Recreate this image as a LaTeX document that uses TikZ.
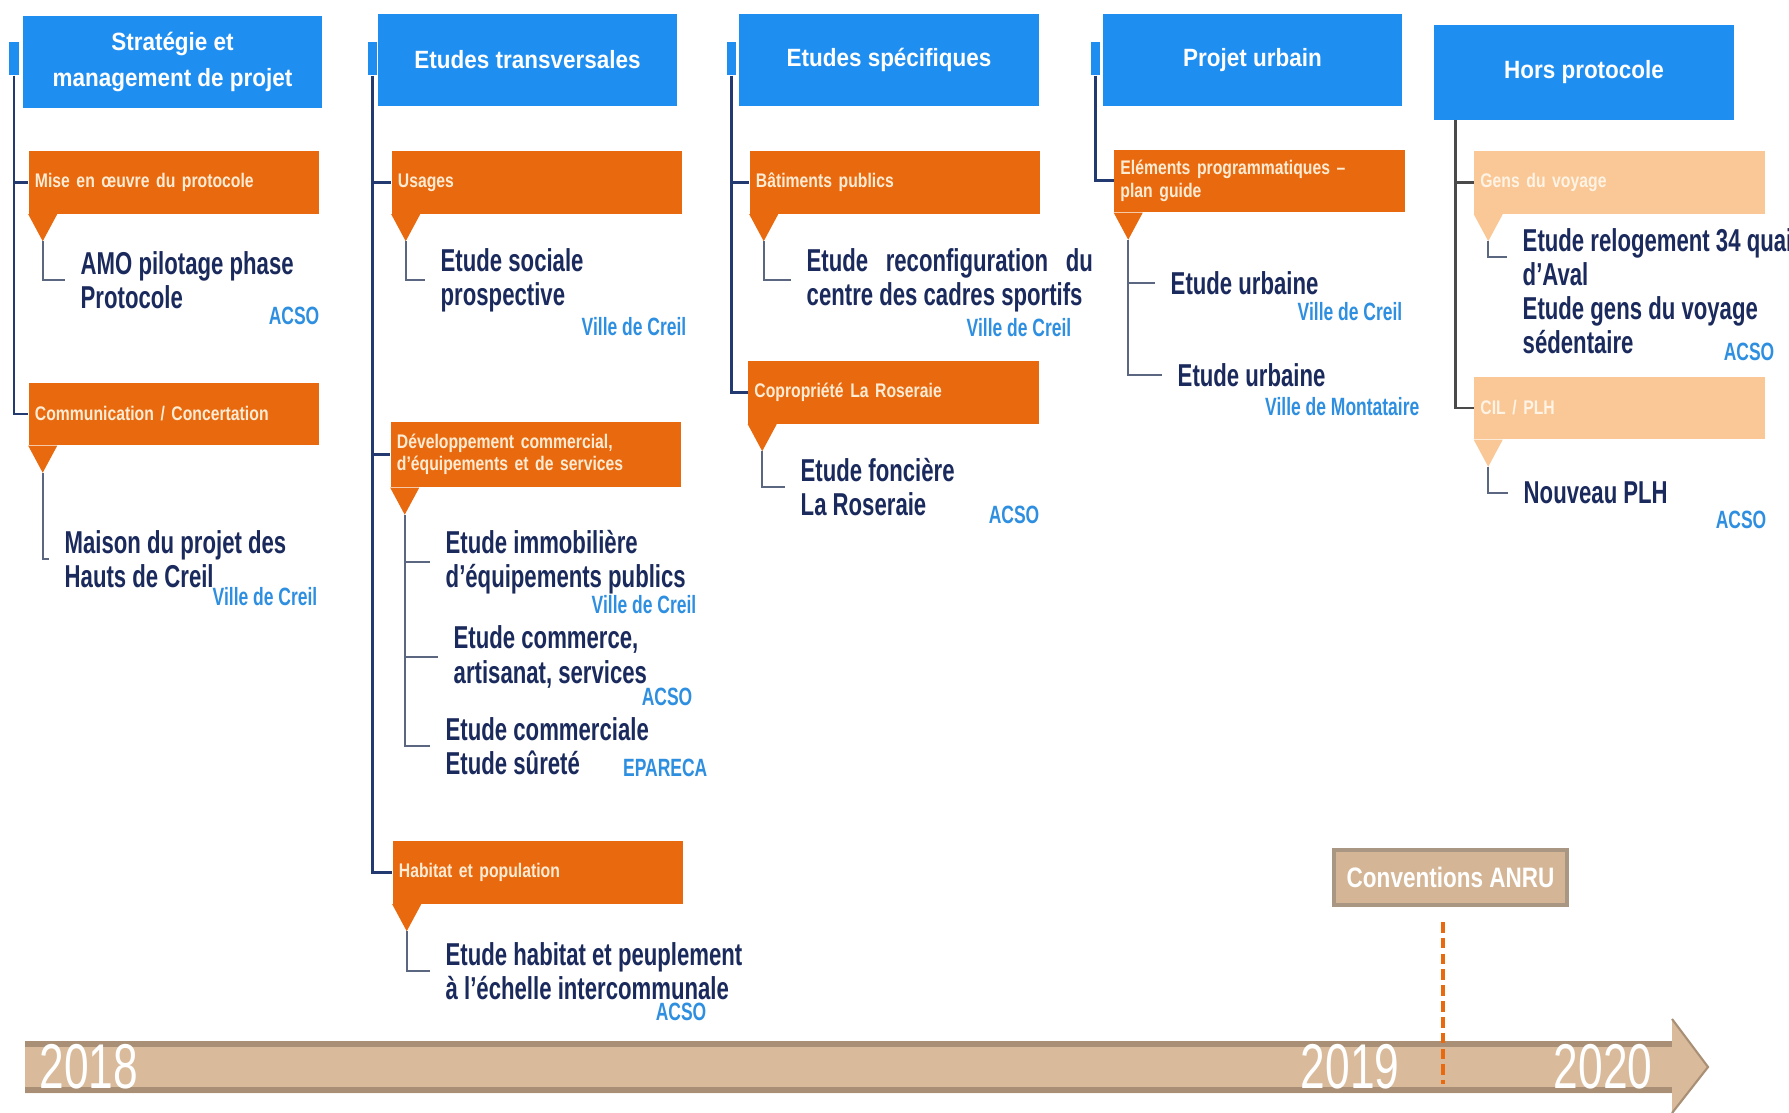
\documentclass[tikz,border=0pt]{standalone}
\usepackage{fontspec}
\setmainfont{Liberation Sans}
\newfontfamily\hdfont[FakeStretch=0.9]{Liberation Sans}
\newfontfamily\catfont[FakeStretch=0.8]{Liberation Sans}
\newfontfamily\itfont[FakeStretch=0.7]{Liberation Sans}
\definecolor{hdblue}{HTML}{1F8EF1}
\definecolor{orng}{HTML}{E8690E}
\definecolor{peach}{HTML}{FAC896}
\definecolor{cream}{HTML}{FDEBD3}
\definecolor{navy}{HTML}{1B2A5C}
\definecolor{orgblue}{HTML}{2E8FE0}
\definecolor{navyline}{HTML}{223A70}
\definecolor{twiggrey}{HTML}{5B6680}
\definecolor{greyline}{HTML}{4A4A4A}
\definecolor{tanfill}{HTML}{D9BB9B}
\definecolor{tandark}{HTML}{A88F75}
\definecolor{anrufill}{HTML}{D4B596}
\definecolor{anrudraw}{HTML}{A99683}

\begin{document}
\begin{tikzpicture}[x=0.01cm,y=-0.01cm,
  hdbox/.style={fill=hdblue, text=white, minimum width=2.99cm, minimum height=0.92cm,
    inner sep=0, align=center, font=\hdfont\bfseries\fontsize{7.1}{10}\selectfont},
  tabbox/.style={fill=hdblue, minimum width=0.09cm, minimum height=0.33cm, inner sep=0},
  catbox/.style={fill=orng, text=cream, text width=2.78cm, minimum height=0.62cm,
    inner xsep=0.06cm, inner ysep=0, align=left,
    font=\catfont\bfseries\fontsize{5.6}{6.4}\selectfont},
  catlight/.style={catbox, fill=peach, text=cream!60!white},
  itemtxt/.style={text=navy, anchor=west, inner sep=0, align=left,
    font=\itfont\bfseries\fontsize{9}{9.7}\selectfont},
  orgtxt/.style={text=orgblue, anchor=east, inner sep=0,
    font=\itfont\bfseries\fontsize{7.1}{8}\selectfont},
  trunk/.style={draw=navyline, line width=0.85pt},
  twig/.style={draw=twiggrey, line width=0.5pt, shorten >=0.15cm}]
\useasboundingbox[fill=white] (0,0) rectangle (1789,1113);

% en-tetes
\node[hdbox] (h1) at (172.5,62) {Stratégie et\\management de projet};
\node[hdbox] (h2) at (527.5,60) {Etudes transversales};
\node[hdbox] (h3) at (889,60) {Etudes spécifiques};
\node[hdbox] (h4) at (1252.5,60) {Projet urbain};
\node[hdbox, minimum height=0.95cm] (h5) at (1584,72.5) {Hors protocole};
\node[tabbox] (t1) at (14,58.5) {};
\node[tabbox] (t2) at (372,58.5) {};
\node[tabbox] (t3) at (731.5,58.5) {};
\node[tabbox] (t4) at (1095,58.5) {};
\coordinate (r5) at (1455,120);

% rubriques
\node[catbox] (c11) at (174,182.5) {Mise en œuvre du protocole};
\node[catbox] (c12) at (174,414) {Communication / Concertation};
\node[catbox] (c21) at (537,182.5) {Usages};
\node[catbox, minimum height=0.65cm] (c22) at (536,454.5) {Développement commercial,\\d’équipements et de services};
\node[catbox] (c23) at (538,872.5) {Habitat et population};
\node[catbox] (c31) at (895,182.5) {Bâtiments publics};
\node[catbox] (c32) at (893.5,392.5) {Copropriété La Roseraie};
\node[catbox] (c41) at (1259.5,181) {Eléments programmatiques –\\plan guide};
\node[catlight] (c51) at (1619.5,182.5) {Gens du voyage};
\node[catlight] (c52) at (1619.5,408) {CIL / PLH};

\foreach \c in {c11,c12,c21,c22,c23,c31,c32,c41}
  \fill[orng] (\c.south west) -- ++(29,0) -- ++(-14.5,27) coordinate (\c v) -- cycle;
\foreach \c in {c51,c52}
  \fill[peach] (\c.south west) -- ++(29,0) -- ++(-14.5,27) coordinate (\c v) -- cycle;

% axes verticaux
\draw[trunk] (t1.south) |- (c12.west);
\draw[trunk] (t1.south |- c11.west) -- (c11.west);
\draw[trunk] (t2.south) |- (c23.west);
\draw[trunk] (t2.south |- c21.west) -- (c21.west);
\draw[trunk] (t2.south |- c22.west) -- (c22.west);
\draw[trunk] (t3.south) |- (c32.west);
\draw[trunk] (t3.south |- c31.west) -- (c31.west);
\draw[trunk] (t4.south) |- (c41.west);
\draw[trunk, draw=greyline] (r5) |- (c52.west);
\draw[trunk, draw=greyline] (r5 |- c51.west) -- (c51.west);

% etudes
\node[itemtxt] (i11) at (80,280) {AMO pilotage phase\\Protocole};
\node[itemtxt] (i12) at (64,559) {Maison du projet des\\Hauts de Creil};
\node[itemtxt] (i21) at (440,280) {Etude sociale\\prospective};
\node[itemtxt] (i22a) at (445,562) {Etude immobilière\\d’équipements publics};
\node[itemtxt] (i22b) at (453,657) {Etude commerce,\\artisanat, services};
\node[itemtxt] (i22c) at (445,746) {Etude commerciale\\Etude sûreté};
\node[itemtxt] (i23) at (445,971) {Etude habitat et peuplement\\à l’échelle intercommunale};
\node[itemtxt] (i31) at (806,280) {\makebox[2.86cm][s]{Etude reconfiguration du}\\centre des cadres sportifs};
\node[itemtxt] (i32) at (800,487) {Etude foncière\\La Roseraie};
\node[itemtxt] (i41a) at (1170,283) {Etude urbaine};
\node[itemtxt] (i41b) at (1177,375) {Etude urbaine};
\node[itemtxt] (i51a) at (1522,257) {Etude relogement 34 quai\\d’Aval};
\node[itemtxt] (i51b) at (1522,325) {Etude gens du voyage\\sédentaire};
\node[itemtxt] (i52) at (1523,493) {Nouveau PLH};

\draw[twig] (c11v) |- (i11.west);
\draw[twig] (c12v) |- (i12.west);
\draw[twig] (c21v) |- (i21.west);
\draw[twig] (c22v) |- (i22c.west);
\draw[twig] (c22v |- i22a.west) -- (i22a.west);
\draw[twig] (c22v |- i22b.west) -- (i22b.west);
\draw[twig] (c23v) |- (i23.west);
\draw[twig] (c31v) |- (i31.west);
\draw[twig] (c32v) |- (i32.west);
\draw[twig] (c41v) |- (i41b.west);
\draw[twig] (c41v |- i41a.west) -- (i41a.west);
\draw[twig] (c51v) |- (i51a.west);
\draw[twig] (c52v) |- (i52.west);

% porteurs
\node[orgtxt] (o11) at (320,316) {ACSO};
\node[orgtxt] (o12) at (318,597) {Ville de Creil};
\node[orgtxt] (o21) at (687,327) {Ville de Creil};
\node[orgtxt] (o22a) at (697,605) {Ville de Creil};
\node[orgtxt] (o22b) at (693,697) {ACSO};
\node[orgtxt] (o22c) at (708,768) {EPARECA};
\node[orgtxt] (o23) at (707,1012) {ACSO};
\node[orgtxt] (o31) at (1072,328) {Ville de Creil};
\node[orgtxt] (o32) at (1040,515) {ACSO};
\node[orgtxt] (o41a) at (1403,312) {Ville de Creil};
\node[orgtxt] (o41b) at (1420,407) {Ville de Montataire};
\node[orgtxt] (o51) at (1775,352) {ACSO};
\node[orgtxt] (o52) at (1767,520) {ACSO};

% frise
\fill[tanfill] (25,1041) -- (1672,1041) -- (1672,1019) -- (1708,1067) -- (1672,1113)
  -- (1672,1093) -- (25,1093) -- cycle;
\fill[tandark] (25,1041) rectangle (1672,1047);
\fill[tandark] (25,1087) rectangle (1672,1093);
\draw[tandark, line width=0.6pt] (1672,1019) -- (1708,1067) -- (1672,1113);
\node[text=white, font=\itfont\fontsize{18}{18}\selectfont] (y18) at (89,1067) {2018};
\node[text=white, font=\itfont\fontsize{18}{18}\selectfont] (y19) at (1350,1067) {2019};
\node[text=white, font=\itfont\fontsize{18}{18}\selectfont] (y20) at (1603,1067) {2020};

\node[fill=anrufill, draw=anrudraw, line width=1pt, text=white, minimum width=2.33cm,
  minimum height=0.55cm, font=\catfont\bfseries\fontsize{8}{8}\selectfont] (anru)
  at (1450.5,877.5) {Conventions ANRU};
\coordinate (m1) at (1443,922);
\coordinate (m2) at (1443,1084);
\draw[orng, line width=1pt, dash pattern=on 3pt off 1.5pt] (m1) -- (m2);
\end{tikzpicture}
\end{document}
